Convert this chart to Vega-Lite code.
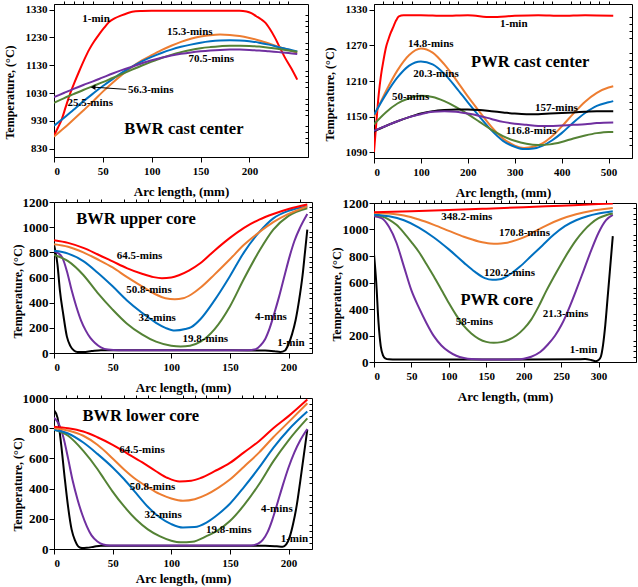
{
"$schema": "https://vega.github.io/schema/vega-lite/v6.json",
"background": "white",
"padding": {"left": 2, "top": 0, "right": 2, "bottom": 0},
"spacing": 9,
"resolve": {"scale": {"color": "independent"}},
"hconcat": [
 {"vconcat": [
  {"width": 254, "height": 153, "resolve": {"axis": {"x": "independent", "y": "independent"}},
   "layer": [
    {"data": {"name": "l1"}, "mark": {"type": "line", "clip": true},
     "encoding": {
      "x": {"field": "x", "type": "quantitative", "scale": {"domain": [0, 249]}, "axis": {"values": [0, 50, 100, 150, 200], "title": "Arc length, (mm)"}},
      "y": {"field": "t", "type": "quantitative", "scale": {"domain": [830, 1330]}, "axis": {"values": [830, 930, 1030, 1130, 1230, 1330], "format": "d", "title": "Temperature, (°C)", "titlePadding": 9, "titleY": 88}},
      "color": {"field": "s", "type": "nominal", "scale": {"domain": ["1-min", "15.3-mins", "25.5-mins", "56.3-mins", "70.5-mins"], "range": ["#FF0000", "#ED7D31", "#0070C0", "#548235", "#7030A0"]}, "legend": null}}},
    {"data": {"name": "t1"}, "mark": {"type": "text"},
     "encoding": {"x": {"field": "x", "type": "quantitative", "axis": null}, "y": {"field": "t", "type": "quantitative", "axis": null}, "text": {"field": "label"}}},
    {"data": {"values": [{"x": 133, "t": 900, "label": "BWR cast center"}]}, "mark": {"type": "text", "fontSize": 16.5},
     "encoding": {"x": {"field": "x", "type": "quantitative", "axis": null}, "y": {"field": "t", "type": "quantitative", "axis": null}, "text": {"field": "label"}}},
    {"data": {"values": [{"x": 74, "t": 1043, "x2": 41, "t2": 1051}]}, "mark": {"type": "rule", "color": "black", "strokeWidth": 1},
     "encoding": {"x": {"field": "x", "type": "quantitative", "axis": null}, "y": {"field": "t", "type": "quantitative", "axis": null}, "x2": {"field": "x2"}, "y2": {"field": "t2"}}},
    {"data": {"values": [{"x": 40, "t": 1051}]}, "mark": {"type": "point", "shape": "triangle-left", "filled": true, "color": "black", "size": 30, "opacity": 1},
     "encoding": {"x": {"field": "x", "type": "quantitative", "axis": null}, "y": {"field": "t", "type": "quantitative", "axis": null}}},
    {"data": {"name": "t1"}, "mark": {"type": "point", "opacity": 0},
     "encoding": {"x": {"field": "x", "type": "quantitative", "axis": {"values": [10,20,30,40,60,70,80,90,110,120,130,140,160,170,180,190,210,220,230,240], "labels": false, "domain": false, "tickSize": 3, "title": null}},
      "y": {"field": "t", "type": "quantitative", "axis": {"values": [850,870,890,910,950,970,990,1010,1050,1070,1090,1110,1150,1170,1190,1210,1250,1270,1290,1310], "labels": false, "domain": false, "tickSize": -3, "title": null}}}}
   ]},
  {"width": 258, "height": 151, "resolve": {"axis": {"x": "independent", "y": "independent"}},
   "layer": [
    {"data": {"name": "l3"}, "mark": {"type": "line", "clip": true},
     "encoding": {
      "x": {"field": "x", "type": "quantitative", "scale": {"domain": [0, 216]}, "axis": {"values": [0, 50, 100, 150, 200], "title": "Arc length, (mm)"}},
      "y": {"field": "t", "type": "quantitative", "scale": {"domain": [0, 1200]}, "axis": {"values": [0, 200, 400, 600, 800, 1000, 1200], "format": "d", "title": "Temperature, (°C)", "titlePadding": -2, "titleY": 89, "labelFontSize": 13, "labelPadding": 1}},
      "color": {"field": "s", "type": "nominal", "scale": {"domain": ["1-min", "4-mins", "19.8-mins", "32-mins", "50.8-mins", "64.5-mins"], "range": ["#000000", "#7030A0", "#548235", "#0070C0", "#ED7D31", "#FF0000"]}, "legend": null}}},
    {"data": {"name": "t3"}, "mark": {"type": "text"},
     "encoding": {"x": {"field": "x", "type": "quantitative", "axis": null}, "y": {"field": "t", "type": "quantitative", "axis": null}, "text": {"field": "label"}}},
    {"data": {"values": [{"x": 70, "t": 1063, "label": "BWR upper core"}]}, "mark": {"type": "text", "fontSize": 16.5},
     "encoding": {"x": {"field": "x", "type": "quantitative", "axis": null}, "y": {"field": "t", "type": "quantitative", "axis": null}, "text": {"field": "label"}}},
    {"data": {"name": "t3"}, "mark": {"type": "point", "opacity": 0},
     "encoding": {"x": {"field": "x", "type": "quantitative", "axis": {"values": [10,20,30,40,60,70,80,90,110,120,130,140,160,170,180,190,210], "labels": false, "domain": false, "tickSize": 3, "title": null}},
      "y": {"field": "t", "type": "quantitative", "axis": {"values": [40,80,120,160,240,280,320,360,440,480,520,560,640,680,720,760,840,880,920,960,1040,1080,1120,1160], "labels": false, "domain": false, "tickSize": -3, "title": null}}}}
   ]},
  {"width": 258, "height": 151, "resolve": {"axis": {"x": "independent", "y": "independent"}},
   "layer": [
    {"data": {"name": "l5"}, "mark": {"type": "line", "clip": true},
     "encoding": {
      "x": {"field": "x", "type": "quantitative", "scale": {"domain": [0, 216]}, "axis": {"values": [0, 50, 100, 150, 200], "title": "Arc length, (mm)", "titlePadding": 4}},
      "y": {"field": "t", "type": "quantitative", "scale": {"domain": [0, 1000]}, "axis": {"values": [0, 200, 400, 600, 800, 1000], "format": "d", "title": "Temperature, (°C)", "titlePadding": -2, "titleY": 86, "labelFontSize": 13, "labelPadding": 1}},
      "color": {"field": "s", "type": "nominal", "scale": {"domain": ["1-min", "4-mins", "19.8-mins", "32-mins", "50.8-mins", "64.5-mins"], "range": ["#000000", "#7030A0", "#548235", "#0070C0", "#ED7D31", "#FF0000"]}, "legend": null}}},
    {"data": {"name": "t5"}, "mark": {"type": "text"},
     "encoding": {"x": {"field": "x", "type": "quantitative", "axis": null}, "y": {"field": "t", "type": "quantitative", "axis": null}, "text": {"field": "label"}}},
    {"data": {"values": [{"x": 74, "t": 879, "label": "BWR lower core"}]}, "mark": {"type": "text", "fontSize": 16.5},
     "encoding": {"x": {"field": "x", "type": "quantitative", "axis": null}, "y": {"field": "t", "type": "quantitative", "axis": null}, "text": {"field": "label"}}},
    {"data": {"name": "t5"}, "mark": {"type": "point", "opacity": 0},
     "encoding": {"x": {"field": "x", "type": "quantitative", "axis": {"values": [10,20,30,40,60,70,80,90,110,120,130,140,160,170,180,190,210], "labels": false, "domain": false, "tickSize": 3, "title": null}},
      "y": {"field": "t", "type": "quantitative", "axis": {"values": [40,80,120,160,240,280,320,360,440,480,520,560,640,680,720,760,840,880,920,960], "labels": false, "domain": false, "tickSize": -3, "title": null}}}}
   ]}
 ], "spacing": -4, "resolve": {"scale": {"color": "independent"}}},
 {"vconcat": [
  {"width": 258, "height": 154, "resolve": {"axis": {"x": "independent", "y": "independent"}},
   "layer": [
    {"data": {"name": "l2"}, "mark": {"type": "line", "clip": true},
     "encoding": {
      "x": {"field": "x", "type": "quantitative", "scale": {"domain": [0, 510]}, "axis": {"values": [0, 100, 200, 300, 400, 500], "title": "Arc length, (mm)"}},
      "y": {"field": "t", "type": "quantitative", "scale": {"domain": [1090, 1330]}, "axis": {"values": [1090, 1150, 1210, 1270, 1330], "format": "d", "title": "Temperature, (°C)", "titlePadding": 9, "titleY": 90}},
      "color": {"field": "s", "type": "nominal", "scale": {"domain": ["1-min", "14.8-mins", "20.3-mins", "50-mins", "116.8-mins", "157-mins"], "range": ["#FF0000", "#ED7D31", "#0070C0", "#548235", "#7030A0", "#000000"]}, "legend": null}}},
    {"data": {"name": "t2"}, "mark": {"type": "text"},
     "encoding": {"x": {"field": "x", "type": "quantitative", "axis": null}, "y": {"field": "t", "type": "quantitative", "axis": null}, "text": {"field": "label"}}},
    {"data": {"values": [{"x": 333, "t": 1242, "label": "PWR cast center"}]}, "mark": {"type": "text", "fontSize": 16.5},
     "encoding": {"x": {"field": "x", "type": "quantitative", "axis": null}, "y": {"field": "t", "type": "quantitative", "axis": null}, "text": {"field": "label"}}},
    {"data": {"name": "t2"}, "mark": {"type": "point", "opacity": 0},
     "encoding": {"x": {"field": "x", "type": "quantitative", "axis": {"values": [20,40,60,80,120,140,160,180,220,240,260,280,320,340,360,380,420,440,460,480,500], "labels": false, "domain": false, "tickSize": 3, "title": null}},
      "y": {"field": "t", "type": "quantitative", "axis": {"values": [1102,1114,1126,1138,1162,1174,1186,1198,1222,1234,1246,1258,1282,1294,1306,1318], "labels": false, "domain": false, "tickSize": -3, "title": null}}}}
   ]},
  {"width": 262, "height": 159, "resolve": {"axis": {"x": "independent", "y": "independent"}},
   "layer": [
    {"data": {"name": "l4"}, "mark": {"type": "line", "clip": true},
     "encoding": {
      "x": {"field": "x", "type": "quantitative", "scale": {"domain": [0, 319]}, "axis": {"values": [0, 50, 100, 150, 200, 250, 300], "title": "Arc length, (mm)"}},
      "y": {"field": "t", "type": "quantitative", "scale": {"domain": [0, 1200]}, "axis": {"values": [0, 200, 400, 600, 800, 1000, 1200], "format": "d", "title": "Temperature, (°C)", "titlePadding": -1, "titleY": 91, "labelFontSize": 13, "labelPadding": 1}},
      "color": {"field": "s", "type": "nominal", "scale": {"domain": ["1-min", "21.3-mins", "58-mins", "120.2-mins", "170.8-mins", "348.2-mins"], "range": ["#000000", "#7030A0", "#548235", "#0070C0", "#ED7D31", "#FF0000"]}, "legend": null}}},
    {"data": {"name": "t4"}, "mark": {"type": "text"},
     "encoding": {"x": {"field": "x", "type": "quantitative", "axis": null}, "y": {"field": "t", "type": "quantitative", "axis": null}, "text": {"field": "label"}}},
    {"data": {"values": [{"x": 164, "t": 467, "label": "PWR core"}]}, "mark": {"type": "text", "fontSize": 16.5},
     "encoding": {"x": {"field": "x", "type": "quantitative", "axis": null}, "y": {"field": "t", "type": "quantitative", "axis": null}, "text": {"field": "label"}}},
    {"data": {"name": "t4"}, "mark": {"type": "point", "opacity": 0},
     "encoding": {"x": {"field": "x", "type": "quantitative", "axis": {"values": [10,20,30,40,60,70,80,90,110,120,130,140,160,170,180,190,210,220,230,240,260,270,280,290,310], "labels": false, "domain": false, "tickSize": 3, "title": null}},
      "y": {"field": "t", "type": "quantitative", "axis": {"values": [40,80,120,160,240,280,320,360,440,480,520,560,640,680,720,760,840,880,920,960,1040,1080,1120,1160], "labels": false, "domain": false, "tickSize": -3, "title": null}}}}
   ]}
 ], "spacing": -4, "resolve": {"scale": {"color": "independent"}}}
],
"datasets": {
 "t1": [{"x": 43, "t": 1295, "label": "1-min"}, {"x": 139, "t": 1248, "label": "15.3-mins"}, {"x": 161, "t": 1151, "label": "70.5-mins"}, {"x": 99, "t": 1042, "label": "56.3-mins"}, {"x": 37, "t": 993, "label": "25.5-mins"}],
 "t2": [{"x": 298, "t": 1307, "label": "1-min"}, {"x": 121, "t": 1272, "label": "14.8-mins"}, {"x": 132, "t": 1221, "label": "20.3-mins"}, {"x": 78, "t": 1183, "label": "50-mins"}, {"x": 389, "t": 1165, "label": "157-mins"}, {"x": 335, "t": 1125, "label": "116.8-mins"}],
 "t3": [{"x": 73, "t": 767, "label": "64.5-mins"}, {"x": 81, "t": 497, "label": "50.8-mins"}, {"x": 88, "t": 278, "label": "32-mins"}, {"x": 129, "t": 111, "label": "19.8-mins"}, {"x": 185, "t": 283, "label": "4-mins"}, {"x": 202, "t": 79, "label": "1-min"}],
 "t4": [{"x": 124, "t": 1097, "label": "348.2-mins"}, {"x": 201, "t": 973, "label": "170.8-mins"}, {"x": 181, "t": 669, "label": "120.2-mins"}, {"x": 134, "t": 300, "label": "58-mins"}, {"x": 256, "t": 366, "label": "21.3-mins"}, {"x": 280, "t": 93, "label": "1-min"}],
 "t5": [{"x": 75, "t": 653, "label": "64.5-mins"}, {"x": 84, "t": 411, "label": "50.8-mins"}, {"x": 93, "t": 227, "label": "32-mins"}, {"x": 149, "t": 124, "label": "19.8-mins"}, {"x": 190, "t": 265, "label": "4-mins"}, {"x": 205, "t": 68, "label": "1-min"}],
 "l1": [
{"s":"1-min","x":0,"t":877},{"s":"1-min","x":4,"t":905},{"s":"1-min","x":8,"t":936},{"s":"1-min","x":12,"t":980},{"s":"1-min","x":16,"t":1023},{"s":"1-min","x":21,"t":1068},{"s":"1-min","x":26,"t":1110},{"s":"1-min","x":31,"t":1150},{"s":"1-min","x":36,"t":1186},{"s":"1-min","x":41,"t":1215},{"s":"1-min","x":46,"t":1240},{"s":"1-min","x":51,"t":1263},{"s":"1-min","x":56,"t":1284},{"s":"1-min","x":62,"t":1298},{"s":"1-min","x":69,"t":1309},{"s":"1-min","x":75,"t":1317},{"s":"1-min","x":80,"t":1322},{"s":"1-min","x":90,"t":1325},{"s":"1-min","x":100,"t":1326},{"s":"1-min","x":150,"t":1326},{"s":"1-min","x":190,"t":1326},{"s":"1-min","x":197,"t":1323},{"s":"1-min","x":202,"t":1317},{"s":"1-min","x":207,"t":1306},{"s":"1-min","x":212,"t":1295},{"s":"1-min","x":216,"t":1284},{"s":"1-min","x":221,"t":1260},{"s":"1-min","x":226,"t":1230},{"s":"1-min","x":231,"t":1195},{"s":"1-min","x":236,"t":1160},{"s":"1-min","x":243,"t":1118},{"s":"1-min","x":249,"t":1078},
{"s":"15.3-mins","x":0,"t":873},{"s":"15.3-mins","x":10,"t":903},{"s":"15.3-mins","x":20,"t":935},{"s":"15.3-mins","x":30,"t":967},{"s":"15.3-mins","x":40,"t":1000},{"s":"15.3-mins","x":50,"t":1035},{"s":"15.3-mins","x":60,"t":1067},{"s":"15.3-mins","x":70,"t":1097},{"s":"15.3-mins","x":80,"t":1124},{"s":"15.3-mins","x":90,"t":1147},{"s":"15.3-mins","x":100,"t":1166},{"s":"15.3-mins","x":110,"t":1184},{"s":"15.3-mins","x":120,"t":1200},{"s":"15.3-mins","x":130,"t":1214},{"s":"15.3-mins","x":140,"t":1225},{"s":"15.3-mins","x":150,"t":1233},{"s":"15.3-mins","x":160,"t":1238},{"s":"15.3-mins","x":170,"t":1240},{"s":"15.3-mins","x":180,"t":1239},{"s":"15.3-mins","x":190,"t":1235},{"s":"15.3-mins","x":200,"t":1228},{"s":"15.3-mins","x":210,"t":1219},{"s":"15.3-mins","x":220,"t":1208},{"s":"15.3-mins","x":230,"t":1196},{"s":"15.3-mins","x":240,"t":1185},{"s":"15.3-mins","x":249,"t":1175},
{"s":"25.5-mins","x":0,"t":912},{"s":"25.5-mins","x":10,"t":940},{"s":"25.5-mins","x":20,"t":970},{"s":"25.5-mins","x":30,"t":1000},{"s":"25.5-mins","x":40,"t":1028},{"s":"25.5-mins","x":50,"t":1055},{"s":"25.5-mins","x":60,"t":1080},{"s":"25.5-mins","x":70,"t":1104},{"s":"25.5-mins","x":80,"t":1125},{"s":"25.5-mins","x":90,"t":1144},{"s":"25.5-mins","x":100,"t":1160},{"s":"25.5-mins","x":110,"t":1174},{"s":"25.5-mins","x":120,"t":1186},{"s":"25.5-mins","x":130,"t":1196},{"s":"25.5-mins","x":140,"t":1204},{"s":"25.5-mins","x":150,"t":1211},{"s":"25.5-mins","x":160,"t":1216},{"s":"25.5-mins","x":170,"t":1219},{"s":"25.5-mins","x":180,"t":1220},{"s":"25.5-mins","x":190,"t":1219},{"s":"25.5-mins","x":200,"t":1216},{"s":"25.5-mins","x":210,"t":1211},{"s":"25.5-mins","x":220,"t":1204},{"s":"25.5-mins","x":230,"t":1195},{"s":"25.5-mins","x":240,"t":1187},{"s":"25.5-mins","x":249,"t":1179},
{"s":"56.3-mins","x":0,"t":995},{"s":"56.3-mins","x":10,"t":1011},{"s":"56.3-mins","x":20,"t":1026},{"s":"56.3-mins","x":30,"t":1041},{"s":"56.3-mins","x":40,"t":1055},{"s":"56.3-mins","x":50,"t":1069},{"s":"56.3-mins","x":60,"t":1084},{"s":"56.3-mins","x":70,"t":1099},{"s":"56.3-mins","x":80,"t":1114},{"s":"56.3-mins","x":90,"t":1129},{"s":"56.3-mins","x":100,"t":1143},{"s":"56.3-mins","x":110,"t":1156},{"s":"56.3-mins","x":120,"t":1167},{"s":"56.3-mins","x":130,"t":1177},{"s":"56.3-mins","x":140,"t":1185},{"s":"56.3-mins","x":150,"t":1191},{"s":"56.3-mins","x":160,"t":1195},{"s":"56.3-mins","x":170,"t":1198},{"s":"56.3-mins","x":180,"t":1200},{"s":"56.3-mins","x":190,"t":1200},{"s":"56.3-mins","x":200,"t":1199},{"s":"56.3-mins","x":210,"t":1197},{"s":"56.3-mins","x":220,"t":1193},{"s":"56.3-mins","x":230,"t":1188},{"s":"56.3-mins","x":240,"t":1183},{"s":"56.3-mins","x":249,"t":1178},
{"s":"70.5-mins","x":0,"t":1015},{"s":"70.5-mins","x":10,"t":1030},{"s":"70.5-mins","x":20,"t":1045},{"s":"70.5-mins","x":30,"t":1059},{"s":"70.5-mins","x":40,"t":1072},{"s":"70.5-mins","x":50,"t":1086},{"s":"70.5-mins","x":60,"t":1100},{"s":"70.5-mins","x":70,"t":1113},{"s":"70.5-mins","x":80,"t":1125},{"s":"70.5-mins","x":90,"t":1137},{"s":"70.5-mins","x":100,"t":1148},{"s":"70.5-mins","x":110,"t":1157},{"s":"70.5-mins","x":120,"t":1165},{"s":"70.5-mins","x":130,"t":1171},{"s":"70.5-mins","x":140,"t":1176},{"s":"70.5-mins","x":150,"t":1180},{"s":"70.5-mins","x":160,"t":1183},{"s":"70.5-mins","x":170,"t":1185},{"s":"70.5-mins","x":180,"t":1186},{"s":"70.5-mins","x":190,"t":1186},{"s":"70.5-mins","x":200,"t":1185},{"s":"70.5-mins","x":210,"t":1183},{"s":"70.5-mins","x":220,"t":1180},{"s":"70.5-mins","x":230,"t":1177},{"s":"70.5-mins","x":240,"t":1174},{"s":"70.5-mins","x":249,"t":1170}
 ],
 "l2": [
{"s":"1-min","x":0,"t":1090},{"s":"1-min","x":5,"t":1140},{"s":"1-min","x":10,"t":1187},{"s":"1-min","x":15,"t":1220},{"s":"1-min","x":20,"t":1244},{"s":"1-min","x":25,"t":1265},{"s":"1-min","x":31,"t":1281},{"s":"1-min","x":36,"t":1292},{"s":"1-min","x":41,"t":1301},{"s":"1-min","x":47,"t":1312},{"s":"1-min","x":53,"t":1319},{"s":"1-min","x":63,"t":1321},{"s":"1-min","x":100,"t":1321},{"s":"1-min","x":150,"t":1320},{"s":"1-min","x":200,"t":1321},{"s":"1-min","x":250,"t":1318},{"s":"1-min","x":300,"t":1320},{"s":"1-min","x":350,"t":1321},{"s":"1-min","x":400,"t":1320},{"s":"1-min","x":450,"t":1321},{"s":"1-min","x":510,"t":1320},
{"s":"14.8-mins","x":0,"t":1150},{"s":"14.8-mins","x":25,"t":1192},{"s":"14.8-mins","x":50,"t":1228},{"s":"14.8-mins","x":75,"t":1254},{"s":"14.8-mins","x":100,"t":1265},{"s":"14.8-mins","x":125,"t":1258},{"s":"14.8-mins","x":150,"t":1238},{"s":"14.8-mins","x":175,"t":1212},{"s":"14.8-mins","x":200,"t":1184},{"s":"14.8-mins","x":225,"t":1158},{"s":"14.8-mins","x":250,"t":1133},{"s":"14.8-mins","x":275,"t":1113},{"s":"14.8-mins","x":300,"t":1101},{"s":"14.8-mins","x":320,"t":1097},{"s":"14.8-mins","x":340,"t":1099},{"s":"14.8-mins","x":360,"t":1105},{"s":"14.8-mins","x":380,"t":1117},{"s":"14.8-mins","x":400,"t":1133},{"s":"14.8-mins","x":425,"t":1155},{"s":"14.8-mins","x":450,"t":1175},{"s":"14.8-mins","x":475,"t":1190},{"s":"14.8-mins","x":500,"t":1199},{"s":"14.8-mins","x":510,"t":1201},
{"s":"20.3-mins","x":0,"t":1153},{"s":"20.3-mins","x":25,"t":1187},{"s":"20.3-mins","x":50,"t":1216},{"s":"20.3-mins","x":75,"t":1236},{"s":"20.3-mins","x":100,"t":1243},{"s":"20.3-mins","x":125,"t":1238},{"s":"20.3-mins","x":150,"t":1222},{"s":"20.3-mins","x":175,"t":1199},{"s":"20.3-mins","x":200,"t":1174},{"s":"20.3-mins","x":225,"t":1150},{"s":"20.3-mins","x":250,"t":1127},{"s":"20.3-mins","x":275,"t":1109},{"s":"20.3-mins","x":300,"t":1099},{"s":"20.3-mins","x":320,"t":1095},{"s":"20.3-mins","x":340,"t":1096},{"s":"20.3-mins","x":360,"t":1101},{"s":"20.3-mins","x":380,"t":1110},{"s":"20.3-mins","x":400,"t":1122},{"s":"20.3-mins","x":425,"t":1140},{"s":"20.3-mins","x":450,"t":1156},{"s":"20.3-mins","x":475,"t":1168},{"s":"20.3-mins","x":500,"t":1174},{"s":"20.3-mins","x":510,"t":1176},
{"s":"50-mins","x":0,"t":1137},{"s":"50-mins","x":25,"t":1157},{"s":"50-mins","x":50,"t":1172},{"s":"50-mins","x":75,"t":1181},{"s":"50-mins","x":100,"t":1185},{"s":"50-mins","x":125,"t":1183},{"s":"50-mins","x":150,"t":1176},{"s":"50-mins","x":175,"t":1166},{"s":"50-mins","x":200,"t":1154},{"s":"50-mins","x":225,"t":1141},{"s":"50-mins","x":250,"t":1128},{"s":"50-mins","x":275,"t":1117},{"s":"50-mins","x":300,"t":1109},{"s":"50-mins","x":325,"t":1104},{"s":"50-mins","x":350,"t":1102},{"s":"50-mins","x":375,"t":1103},{"s":"50-mins","x":400,"t":1107},{"s":"50-mins","x":425,"t":1113},{"s":"50-mins","x":450,"t":1118},{"s":"50-mins","x":475,"t":1122},{"s":"50-mins","x":500,"t":1124},{"s":"50-mins","x":510,"t":1124},
{"s":"157-mins","x":0,"t":1125},{"s":"157-mins","x":25,"t":1134},{"s":"157-mins","x":50,"t":1142},{"s":"157-mins","x":75,"t":1149},{"s":"157-mins","x":100,"t":1155},{"s":"157-mins","x":125,"t":1159},{"s":"157-mins","x":150,"t":1161},{"s":"157-mins","x":175,"t":1162},{"s":"157-mins","x":200,"t":1162},{"s":"157-mins","x":225,"t":1161},{"s":"157-mins","x":250,"t":1159},{"s":"157-mins","x":275,"t":1157},{"s":"157-mins","x":300,"t":1155},{"s":"157-mins","x":325,"t":1154},{"s":"157-mins","x":350,"t":1154},{"s":"157-mins","x":375,"t":1155},{"s":"157-mins","x":400,"t":1156},{"s":"157-mins","x":425,"t":1157},{"s":"157-mins","x":450,"t":1158},{"s":"157-mins","x":475,"t":1159},{"s":"157-mins","x":510,"t":1159},
{"s":"116.8-mins","x":0,"t":1126},{"s":"116.8-mins","x":25,"t":1134},{"s":"116.8-mins","x":50,"t":1142},{"s":"116.8-mins","x":75,"t":1149},{"s":"116.8-mins","x":100,"t":1154},{"s":"116.8-mins","x":125,"t":1158},{"s":"116.8-mins","x":150,"t":1159},{"s":"116.8-mins","x":175,"t":1158},{"s":"116.8-mins","x":200,"t":1155},{"s":"116.8-mins","x":225,"t":1151},{"s":"116.8-mins","x":250,"t":1146},{"s":"116.8-mins","x":275,"t":1141},{"s":"116.8-mins","x":300,"t":1138},{"s":"116.8-mins","x":325,"t":1136},{"s":"116.8-mins","x":350,"t":1134},{"s":"116.8-mins","x":375,"t":1134},{"s":"116.8-mins","x":400,"t":1135},{"s":"116.8-mins","x":425,"t":1136},{"s":"116.8-mins","x":450,"t":1137},{"s":"116.8-mins","x":475,"t":1139},{"s":"116.8-mins","x":510,"t":1140}
 ],
 "l3": [
{"s":"1-min","x":0,"t":860},{"s":"1-min","x":3,"t":700},{"s":"1-min","x":5,"t":500},{"s":"1-min","x":8,"t":300},{"s":"1-min","x":11,"t":130},{"s":"1-min","x":14,"t":55},{"s":"1-min","x":17,"t":20},{"s":"1-min","x":20,"t":8},{"s":"1-min","x":25,"t":8},{"s":"1-min","x":32,"t":15},{"s":"1-min","x":40,"t":22},{"s":"1-min","x":60,"t":22},{"s":"1-min","x":150,"t":22},{"s":"1-min","x":180,"t":20},{"s":"1-min","x":188,"t":14},{"s":"1-min","x":193,"t":8},{"s":"1-min","x":197,"t":20},{"s":"1-min","x":200,"t":70},{"s":"1-min","x":203,"t":150},{"s":"1-min","x":206,"t":260},{"s":"1-min","x":209,"t":420},{"s":"1-min","x":212,"t":620},{"s":"1-min","x":214,"t":800},{"s":"1-min","x":216,"t":980},
{"s":"4-mins","x":0,"t":810},{"s":"4-mins","x":4,"t":790},{"s":"4-mins","x":7,"t":760},{"s":"4-mins","x":11,"t":650},{"s":"4-mins","x":15,"t":500},{"s":"4-mins","x":19,"t":370},{"s":"4-mins","x":23,"t":260},{"s":"4-mins","x":27,"t":180},{"s":"4-mins","x":31,"t":120},{"s":"4-mins","x":35,"t":80},{"s":"4-mins","x":40,"t":45},{"s":"4-mins","x":46,"t":27},{"s":"4-mins","x":55,"t":22},{"s":"4-mins","x":100,"t":22},{"s":"4-mins","x":165,"t":22},{"s":"4-mins","x":172,"t":30},{"s":"4-mins","x":176,"t":60},{"s":"4-mins","x":180,"t":110},{"s":"4-mins","x":184,"t":200},{"s":"4-mins","x":188,"t":320},{"s":"4-mins","x":192,"t":450},{"s":"4-mins","x":197,"t":630},{"s":"4-mins","x":201,"t":770},{"s":"4-mins","x":205,"t":890},{"s":"4-mins","x":210,"t":1000},{"s":"4-mins","x":216,"t":1105},
{"s":"19.8-mins","x":0,"t":780},{"s":"19.8-mins","x":12,"t":730},{"s":"19.8-mins","x":25,"t":620},{"s":"19.8-mins","x":37,"t":480},{"s":"19.8-mins","x":50,"t":345},{"s":"19.8-mins","x":62,"t":235},{"s":"19.8-mins","x":75,"t":148},{"s":"19.8-mins","x":87,"t":90},{"s":"19.8-mins","x":100,"t":58},{"s":"19.8-mins","x":108,"t":52},{"s":"19.8-mins","x":116,"t":58},{"s":"19.8-mins","x":125,"t":90},{"s":"19.8-mins","x":137,"t":190},{"s":"19.8-mins","x":150,"t":370},{"s":"19.8-mins","x":162,"t":590},{"s":"19.8-mins","x":175,"t":810},{"s":"19.8-mins","x":187,"t":980},{"s":"19.8-mins","x":200,"t":1090},{"s":"19.8-mins","x":216,"t":1150},
{"s":"32-mins","x":0,"t":812},{"s":"32-mins","x":12,"t":790},{"s":"32-mins","x":25,"t":730},{"s":"32-mins","x":37,"t":640},{"s":"32-mins","x":50,"t":530},{"s":"32-mins","x":62,"t":420},{"s":"32-mins","x":75,"t":320},{"s":"32-mins","x":87,"t":240},{"s":"32-mins","x":95,"t":200},{"s":"32-mins","x":103,"t":178},{"s":"32-mins","x":112,"t":190},{"s":"32-mins","x":117,"t":205},{"s":"32-mins","x":125,"t":270},{"s":"32-mins","x":137,"t":420},{"s":"32-mins","x":150,"t":610},{"s":"32-mins","x":162,"t":800},{"s":"32-mins","x":175,"t":960},{"s":"32-mins","x":187,"t":1070},{"s":"32-mins","x":200,"t":1130},{"s":"32-mins","x":216,"t":1165},
{"s":"50.8-mins","x":0,"t":865},{"s":"50.8-mins","x":12,"t":845},{"s":"50.8-mins","x":25,"t":800},{"s":"50.8-mins","x":37,"t":745},{"s":"50.8-mins","x":50,"t":680},{"s":"50.8-mins","x":62,"t":605},{"s":"50.8-mins","x":75,"t":530},{"s":"50.8-mins","x":87,"t":465},{"s":"50.8-mins","x":95,"t":435},{"s":"50.8-mins","x":103,"t":428},{"s":"50.8-mins","x":110,"t":435},{"s":"50.8-mins","x":117,"t":465},{"s":"50.8-mins","x":125,"t":520},{"s":"50.8-mins","x":137,"t":625},{"s":"50.8-mins","x":150,"t":745},{"s":"50.8-mins","x":162,"t":860},{"s":"50.8-mins","x":175,"t":960},{"s":"50.8-mins","x":187,"t":1040},{"s":"50.8-mins","x":200,"t":1105},{"s":"50.8-mins","x":216,"t":1165},
{"s":"64.5-mins","x":0,"t":896},{"s":"64.5-mins","x":12,"t":875},{"s":"64.5-mins","x":25,"t":835},{"s":"64.5-mins","x":37,"t":785},{"s":"64.5-mins","x":50,"t":728},{"s":"64.5-mins","x":62,"t":675},{"s":"64.5-mins","x":75,"t":630},{"s":"64.5-mins","x":85,"t":603},{"s":"64.5-mins","x":92,"t":595},{"s":"64.5-mins","x":100,"t":600},{"s":"64.5-mins","x":107,"t":620},{"s":"64.5-mins","x":115,"t":655},{"s":"64.5-mins","x":125,"t":715},{"s":"64.5-mins","x":137,"t":815},{"s":"64.5-mins","x":150,"t":915},{"s":"64.5-mins","x":162,"t":995},{"s":"64.5-mins","x":175,"t":1060},{"s":"64.5-mins","x":187,"t":1105},{"s":"64.5-mins","x":200,"t":1145},{"s":"64.5-mins","x":216,"t":1180}
 ],
 "l4": [
{"s":"1-min","x":0,"t":815},{"s":"1-min","x":3,"t":600},{"s":"1-min","x":6,"t":300},{"s":"1-min","x":9,"t":120},{"s":"1-min","x":12,"t":50},{"s":"1-min","x":15,"t":28},{"s":"1-min","x":20,"t":20},{"s":"1-min","x":30,"t":18},{"s":"1-min","x":100,"t":18},{"s":"1-min","x":200,"t":18},{"s":"1-min","x":270,"t":20},{"s":"1-min","x":282,"t":22},{"s":"1-min","x":290,"t":15},{"s":"1-min","x":296,"t":6},{"s":"1-min","x":300,"t":15},{"s":"1-min","x":303,"t":40},{"s":"1-min","x":306,"t":130},{"s":"1-min","x":309,"t":280},{"s":"1-min","x":312,"t":480},{"s":"1-min","x":315,"t":680},{"s":"1-min","x":319,"t":950},
{"s":"21.3-mins","x":0,"t":1100},{"s":"21.3-mins","x":10,"t":1085},{"s":"21.3-mins","x":20,"t":1020},{"s":"21.3-mins","x":30,"t":900},{"s":"21.3-mins","x":40,"t":720},{"s":"21.3-mins","x":50,"t":540},{"s":"21.3-mins","x":60,"t":410},{"s":"21.3-mins","x":70,"t":295},{"s":"21.3-mins","x":80,"t":195},{"s":"21.3-mins","x":90,"t":125},{"s":"21.3-mins","x":100,"t":78},{"s":"21.3-mins","x":110,"t":47},{"s":"21.3-mins","x":120,"t":30},{"s":"21.3-mins","x":130,"t":22},{"s":"21.3-mins","x":160,"t":18},{"s":"21.3-mins","x":190,"t":20},{"s":"21.3-mins","x":200,"t":25},{"s":"21.3-mins","x":210,"t":40},{"s":"21.3-mins","x":222,"t":75},{"s":"21.3-mins","x":232,"t":130},{"s":"21.3-mins","x":242,"t":200},{"s":"21.3-mins","x":250,"t":275},{"s":"21.3-mins","x":256,"t":345},{"s":"21.3-mins","x":262,"t":425},{"s":"21.3-mins","x":270,"t":540},{"s":"21.3-mins","x":280,"t":690},{"s":"21.3-mins","x":290,"t":840},{"s":"21.3-mins","x":300,"t":975},{"s":"21.3-mins","x":310,"t":1070},{"s":"21.3-mins","x":319,"t":1110},
{"s":"58-mins","x":0,"t":1110},{"s":"58-mins","x":10,"t":1100},{"s":"58-mins","x":20,"t":1075},{"s":"58-mins","x":30,"t":1035},{"s":"58-mins","x":40,"t":975},{"s":"58-mins","x":50,"t":905},{"s":"58-mins","x":60,"t":830},{"s":"58-mins","x":70,"t":740},{"s":"58-mins","x":80,"t":645},{"s":"58-mins","x":90,"t":545},{"s":"58-mins","x":100,"t":445},{"s":"58-mins","x":110,"t":352},{"s":"58-mins","x":120,"t":272},{"s":"58-mins","x":130,"t":215},{"s":"58-mins","x":140,"t":175},{"s":"58-mins","x":150,"t":152},{"s":"58-mins","x":160,"t":145},{"s":"58-mins","x":170,"t":150},{"s":"58-mins","x":180,"t":168},{"s":"58-mins","x":190,"t":200},{"s":"58-mins","x":200,"t":250},{"s":"58-mins","x":210,"t":320},{"s":"58-mins","x":220,"t":420},{"s":"58-mins","x":230,"t":535},{"s":"58-mins","x":240,"t":640},{"s":"58-mins","x":250,"t":740},{"s":"58-mins","x":260,"t":835},{"s":"58-mins","x":270,"t":920},{"s":"58-mins","x":280,"t":990},{"s":"58-mins","x":290,"t":1045},{"s":"58-mins","x":300,"t":1085},{"s":"58-mins","x":310,"t":1108},{"s":"58-mins","x":319,"t":1120},
{"s":"120.2-mins","x":0,"t":1112},{"s":"120.2-mins","x":20,"t":1100},{"s":"120.2-mins","x":40,"t":1070},{"s":"120.2-mins","x":60,"t":1015},{"s":"120.2-mins","x":80,"t":940},{"s":"120.2-mins","x":100,"t":850},{"s":"120.2-mins","x":120,"t":750},{"s":"120.2-mins","x":135,"t":680},{"s":"120.2-mins","x":148,"t":633},{"s":"120.2-mins","x":158,"t":620},{"s":"120.2-mins","x":168,"t":624},{"s":"120.2-mins","x":180,"t":655},{"s":"120.2-mins","x":195,"t":720},{"s":"120.2-mins","x":210,"t":800},{"s":"120.2-mins","x":225,"t":880},{"s":"120.2-mins","x":240,"t":960},{"s":"120.2-mins","x":255,"t":1025},{"s":"120.2-mins","x":270,"t":1070},{"s":"120.2-mins","x":285,"t":1100},{"s":"120.2-mins","x":300,"t":1120},{"s":"120.2-mins","x":319,"t":1137},
{"s":"170.8-mins","x":0,"t":1127},{"s":"170.8-mins","x":20,"t":1120},{"s":"170.8-mins","x":40,"t":1105},{"s":"170.8-mins","x":60,"t":1075},{"s":"170.8-mins","x":80,"t":1035},{"s":"170.8-mins","x":100,"t":990},{"s":"170.8-mins","x":120,"t":945},{"s":"170.8-mins","x":140,"t":910},{"s":"170.8-mins","x":155,"t":895},{"s":"170.8-mins","x":165,"t":893},{"s":"170.8-mins","x":175,"t":898},{"s":"170.8-mins","x":190,"t":920},{"s":"170.8-mins","x":200,"t":940},{"s":"170.8-mins","x":215,"t":985},{"s":"170.8-mins","x":230,"t":1030},{"s":"170.8-mins","x":250,"t":1079},{"s":"170.8-mins","x":270,"t":1115},{"s":"170.8-mins","x":290,"t":1140},{"s":"170.8-mins","x":305,"t":1152},{"s":"170.8-mins","x":319,"t":1163},
{"s":"348.2-mins","x":0,"t":1130},{"s":"348.2-mins","x":50,"t":1138},{"s":"348.2-mins","x":100,"t":1147},{"s":"348.2-mins","x":150,"t":1157},{"s":"348.2-mins","x":200,"t":1168},{"s":"348.2-mins","x":250,"t":1180},{"s":"348.2-mins","x":300,"t":1192},{"s":"348.2-mins","x":319,"t":1197}
 ],
 "l5": [
{"s":"1-min","x":0,"t":920},{"s":"1-min","x":3,"t":870},{"s":"1-min","x":6,"t":700},{"s":"1-min","x":9,"t":480},{"s":"1-min","x":12,"t":280},{"s":"1-min","x":15,"t":130},{"s":"1-min","x":18,"t":55},{"s":"1-min","x":21,"t":15},{"s":"1-min","x":24,"t":6},{"s":"1-min","x":28,"t":8},{"s":"1-min","x":34,"t":15},{"s":"1-min","x":40,"t":22},{"s":"1-min","x":100,"t":22},{"s":"1-min","x":180,"t":22},{"s":"1-min","x":190,"t":18},{"s":"1-min","x":195,"t":15},{"s":"1-min","x":198,"t":30},{"s":"1-min","x":201,"t":80},{"s":"1-min","x":204,"t":170},{"s":"1-min","x":207,"t":290},{"s":"1-min","x":210,"t":450},{"s":"1-min","x":213,"t":620},{"s":"1-min","x":216,"t":790},
{"s":"4-mins","x":0,"t":870},{"s":"4-mins","x":4,"t":830},{"s":"4-mins","x":8,"t":740},{"s":"4-mins","x":12,"t":600},{"s":"4-mins","x":16,"t":450},{"s":"4-mins","x":20,"t":330},{"s":"4-mins","x":24,"t":230},{"s":"4-mins","x":28,"t":150},{"s":"4-mins","x":32,"t":90},{"s":"4-mins","x":37,"t":50},{"s":"4-mins","x":42,"t":30},{"s":"4-mins","x":48,"t":24},{"s":"4-mins","x":100,"t":24},{"s":"4-mins","x":168,"t":24},{"s":"4-mins","x":174,"t":35},{"s":"4-mins","x":178,"t":60},{"s":"4-mins","x":182,"t":110},{"s":"4-mins","x":186,"t":190},{"s":"4-mins","x":190,"t":290},{"s":"4-mins","x":195,"t":420},{"s":"4-mins","x":200,"t":540},{"s":"4-mins","x":205,"t":640},{"s":"4-mins","x":210,"t":720},{"s":"4-mins","x":216,"t":795},
{"s":"19.8-mins","x":0,"t":790},{"s":"19.8-mins","x":12,"t":750},{"s":"19.8-mins","x":25,"t":650},{"s":"19.8-mins","x":37,"t":530},{"s":"19.8-mins","x":43,"t":460},{"s":"19.8-mins","x":50,"t":380},{"s":"19.8-mins","x":60,"t":280},{"s":"19.8-mins","x":70,"t":195},{"s":"19.8-mins","x":80,"t":130},{"s":"19.8-mins","x":90,"t":85},{"s":"19.8-mins","x":100,"t":55},{"s":"19.8-mins","x":108,"t":44},{"s":"19.8-mins","x":118,"t":48},{"s":"19.8-mins","x":130,"t":85},{"s":"19.8-mins","x":140,"t":125},{"s":"19.8-mins","x":150,"t":185},{"s":"19.8-mins","x":162,"t":290},{"s":"19.8-mins","x":175,"t":430},{"s":"19.8-mins","x":187,"t":580},{"s":"19.8-mins","x":200,"t":720},{"s":"19.8-mins","x":216,"t":865},
{"s":"32-mins","x":0,"t":790},{"s":"32-mins","x":12,"t":765},{"s":"32-mins","x":25,"t":705},{"s":"32-mins","x":37,"t":630},{"s":"32-mins","x":50,"t":540},{"s":"32-mins","x":60,"t":460},{"s":"32-mins","x":70,"t":370},{"s":"32-mins","x":80,"t":280},{"s":"32-mins","x":90,"t":210},{"s":"32-mins","x":100,"t":165},{"s":"32-mins","x":110,"t":142},{"s":"32-mins","x":120,"t":145},{"s":"32-mins","x":130,"t":175},{"s":"32-mins","x":140,"t":230},{"s":"32-mins","x":150,"t":300},{"s":"32-mins","x":162,"t":410},{"s":"32-mins","x":175,"t":540},{"s":"32-mins","x":187,"t":670},{"s":"32-mins","x":200,"t":790},{"s":"32-mins","x":216,"t":910},
{"s":"50.8-mins","x":0,"t":800},{"s":"50.8-mins","x":12,"t":785},{"s":"50.8-mins","x":25,"t":750},{"s":"50.8-mins","x":37,"t":690},{"s":"50.8-mins","x":50,"t":600},{"s":"50.8-mins","x":60,"t":525},{"s":"50.8-mins","x":70,"t":460},{"s":"50.8-mins","x":80,"t":410},{"s":"50.8-mins","x":90,"t":365},{"s":"50.8-mins","x":100,"t":335},{"s":"50.8-mins","x":110,"t":320},{"s":"50.8-mins","x":120,"t":330},{"s":"50.8-mins","x":130,"t":360},{"s":"50.8-mins","x":140,"t":405},{"s":"50.8-mins","x":150,"t":460},{"s":"50.8-mins","x":162,"t":545},{"s":"50.8-mins","x":175,"t":640},{"s":"50.8-mins","x":187,"t":740},{"s":"50.8-mins","x":200,"t":840},{"s":"50.8-mins","x":216,"t":965},
{"s":"64.5-mins","x":0,"t":810},{"s":"64.5-mins","x":12,"t":800},{"s":"64.5-mins","x":25,"t":778},{"s":"64.5-mins","x":37,"t":740},{"s":"64.5-mins","x":50,"t":690},{"s":"64.5-mins","x":62,"t":635},{"s":"64.5-mins","x":75,"t":575},{"s":"64.5-mins","x":87,"t":515},{"s":"64.5-mins","x":97,"t":470},{"s":"64.5-mins","x":107,"t":447},{"s":"64.5-mins","x":117,"t":452},{"s":"64.5-mins","x":125,"t":470},{"s":"64.5-mins","x":137,"t":515},{"s":"64.5-mins","x":150,"t":570},{"s":"64.5-mins","x":162,"t":640},{"s":"64.5-mins","x":175,"t":715},{"s":"64.5-mins","x":187,"t":800},{"s":"64.5-mins","x":200,"t":880},{"s":"64.5-mins","x":216,"t":990}
 ]
},
"config": {
 "font": "Liberation Serif",
 "view": {"stroke": "black", "strokeWidth": 1},
 "axis": {"labelFont": "Liberation Serif", "labelFontWeight": "bold", "labelFontSize": 11, "labelColor": "black", "titleFont": "Liberation Serif", "titleFontWeight": "bold", "titleFontSize": 12, "titleColor": "black", "domainColor": "black", "tickColor": "black", "grid": false, "tickSize": 5, "labelPadding": 2},
 "axisX": {"titlePadding": 9, "labelPadding": 3, "titleFontSize": 13},
 "text": {"font": "Liberation Serif", "fontWeight": "bold", "fontSize": 11, "color": "black"},
 "line": {"strokeWidth": 2, "interpolate": "monotone"}
}
}
